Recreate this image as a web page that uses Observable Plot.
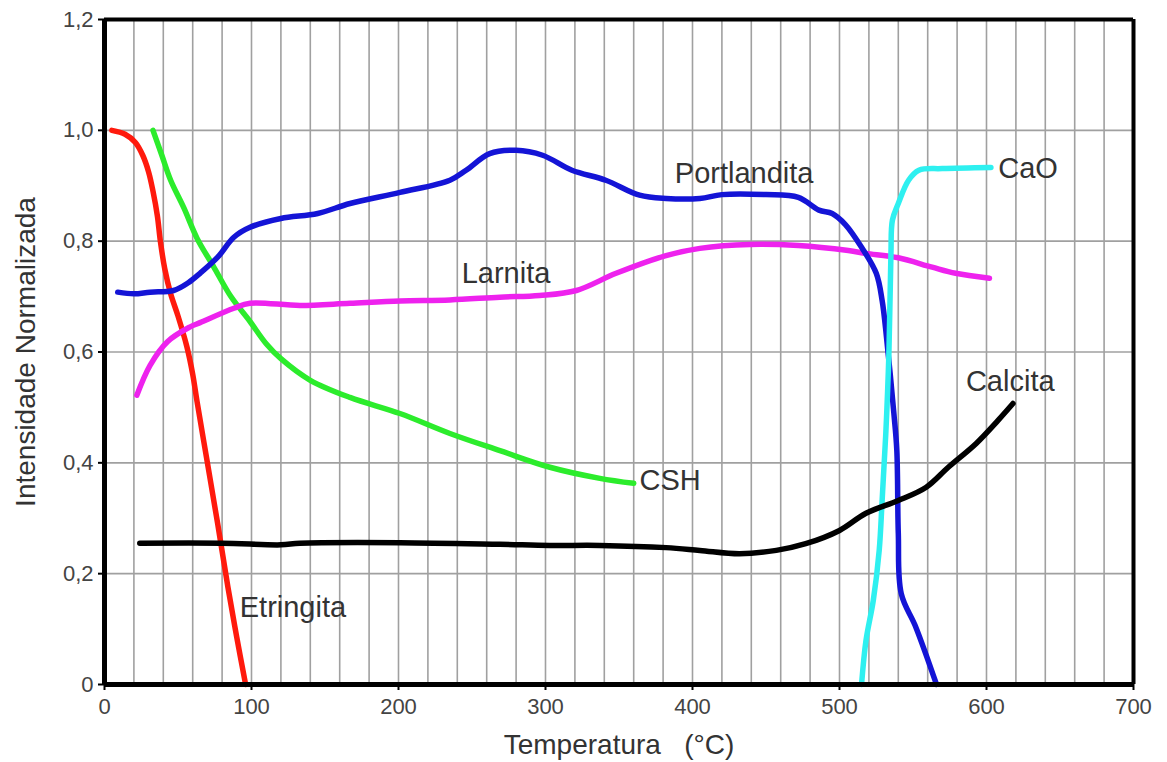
<!DOCTYPE html>
<html>
<head>
<meta charset="utf-8">
<script src="https://cdn.jsdelivr.net/npm/d3@7"></script>
<script src="https://cdn.jsdelivr.net/npm/@observablehq/plot@0.6"></script>
<style>
  html, body { margin: 0; padding: 0; background: #fff; }
  #chart svg { display: block; }
</style>
</head>
<body>
<div id="chart"></div>
<script>
// Normalised XRD intensity of each phase against temperature (°C): [T, I]
const etringita = [[5,1.0],[14,0.993],[21,0.978],[26,0.955],[30,0.925],[33,0.89],[36,0.845],[38,0.80],[41,0.75],[45,0.705],[50,0.665],[56,0.61],[60,0.56],[63,0.51],[70,0.40],[77,0.29],[84,0.175],[90,0.085],[96,0.0]];
const csh = [[33,1.0],[39,0.955],[45,0.91],[54,0.86],[63,0.805],[74,0.755],[86,0.70],[99,0.655],[110,0.615],[120,0.588],[140,0.549],[167,0.518],[201,0.489],[235,0.453],[269,0.422],[303,0.392],[337,0.372],[360,0.363]];
const portlandita = [[9,0.708],[20,0.705],[31,0.708],[47,0.711],[57,0.725],[65,0.742],[77,0.771],[88,0.807],[99,0.825],[120,0.841],[145,0.85],[167,0.868],[201,0.888],[235,0.91],[246,0.928],[262,0.958],[280,0.964],[298,0.955],[318,0.928],[341,0.91],[364,0.883],[382,0.877],[405,0.877],[420,0.884],[450,0.884],[472,0.879],[486,0.856],[495,0.85],[504,0.83],[515,0.789],[525,0.742],[529,0.693],[532,0.626],[537,0.489],[539,0.422],[540,0.273],[542,0.164],[552,0.103],[566,0.0]];
const larnita = [[22,0.522],[31,0.576],[43,0.619],[58,0.645],[65,0.653],[88,0.679],[99,0.688],[133,0.684],[167,0.688],[201,0.692],[235,0.694],[269,0.699],[296,0.702],[321,0.711],[348,0.742],[382,0.774],[405,0.787],[439,0.794],[472,0.792],[506,0.783],[518,0.778],[540,0.77],[563,0.753],[579,0.742],[602,0.733]];
const cao = [[515,0.0],[518,0.079],[523,0.152],[527,0.242],[529,0.332],[531.5,0.453],[533.6,0.597],[535,0.778],[536,0.838],[540,0.868],[547,0.91],[554,0.928],[570,0.931],[603,0.933]];
const calcita = [[24,0.255],[80,0.255],[120,0.252],[133,0.255],[201,0.256],[269,0.253],[303,0.251],[337,0.251],[382,0.247],[405,0.242],[432,0.236],[457,0.242],[477,0.254],[500,0.278],[518,0.309],[540,0.332],[559,0.356],[574,0.392],[593,0.435],[608,0.477],[618,0.507]];

// Curve names and where they sit
const labelNames = ["Etringita", "CSH", "Larnita", "Portlandita", "CaO", "Calcita"];
const labelT = [92, 364, 243, 388, 608, 586];
const labelI = [0.139, 0.368, 0.742, 0.922, 0.931, 0.547];

// Axis ticks
const xTicks = [0, 100, 200, 300, 400, 500, 600, 700];
const yTicks = [0, 0.2, 0.4, 0.6, 0.8, 1.0, 1.2];
const xGrid = d3.range(20, 700, 20);
const yGrid = [0.2, 0.4, 0.6, 0.8, 1.0];

const series = [
  {data: etringita, color: "#ff1a0d"},
  {data: csh, color: "#2cec2c"},
  {data: larnita, color: "#ee22ee"},
  {data: portlandita, color: "#1414d6"},
  {data: cao, color: "#2ef0f0"},
  {data: calcita, color: "#000000"}
];

const labels = labelNames.map((name, i) => ({name, t: labelT[i], v: labelI[i]}));
const fmtY = d => d === 0 ? "0" : d.toFixed(1).replace(".", ",");

const chart = Plot.plot({
  width: 1167,
  height: 762,
  marginLeft: 104,
  marginRight: 34,
  marginTop: 19,
  marginBottom: 78,
  style: {fontFamily: "'Liberation Sans', Arial, sans-serif", background: "#fff", color: "#3a3a3a"},
  x: {domain: [0, 700]},
  y: {domain: [0, 1.2]},
  marks: [
    Plot.gridX(xGrid, {stroke: "#a0a0a0", strokeOpacity: 1, strokeWidth: 1.6}),
    Plot.gridY(yGrid, {stroke: "#a0a0a0", strokeOpacity: 1, strokeWidth: 1.6}),
    Plot.axisX(xTicks, {tickSize: 6, tickPadding: 8, fontSize: 22, label: null, stroke: "#000", strokeWidth: 2, fill: "#444"}),
    Plot.axisY(yTicks, {tickSize: 6, tickPadding: 5, fontSize: 22, label: null, tickFormat: fmtY, stroke: "#000", strokeWidth: 2, fill: "#444"}),
    ...series.map(s => Plot.line(s.data, {
      x: d => d[0], y: d => d[1],
      stroke: s.color, strokeWidth: 5.5, curve: "catmull-rom",
      strokeLinecap: "round", strokeLinejoin: "round"
    })),
    Plot.ruleX([700], {stroke: "#000", strokeWidth: 4}),
    Plot.ruleY([1.2], {stroke: "#000", strokeWidth: 4}),
    Plot.ruleX([0], {stroke: "#000", strokeWidth: 5}),
    Plot.ruleY([0], {stroke: "#000", strokeWidth: 5}),
    Plot.text(labels, {x: "t", y: "v", text: "name", textAnchor: "start", fontSize: 29, fill: "#333"}),
    Plot.text(["Temperatura\u00a0\u00a0\u00a0(°C)"], {frameAnchor: "bottom", dy: 69, textAnchor: "middle", lineAnchor: "bottom", fontSize: 28, fill: "#333"}),
    Plot.text(["Intensidade Normalizada"], {frameAnchor: "left", dx: -78, rotate: -90, textAnchor: "middle", lineAnchor: "middle", fontSize: 28, fill: "#333"})
  ]
});

document.getElementById("chart").append(chart);
</script>
</body>
</html>
